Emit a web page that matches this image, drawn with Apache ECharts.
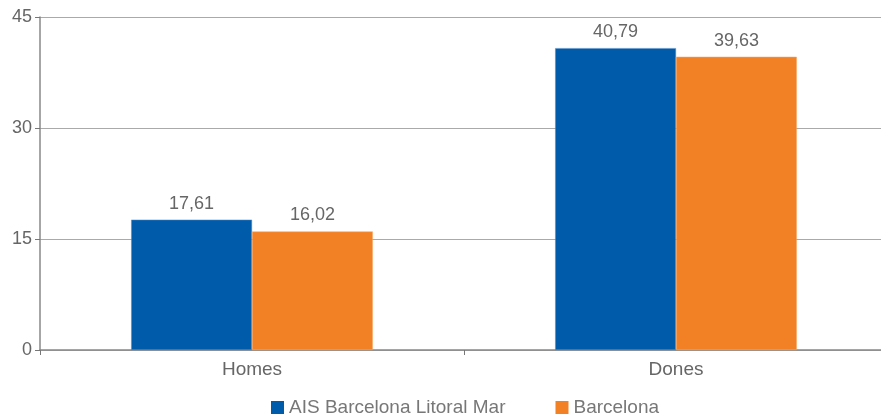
<!DOCTYPE html>
<html><head><meta charset="utf-8">
<script src="https://cdn.jsdelivr.net/npm/echarts@6/dist/echarts.min.js"></script>
<style>html,body{margin:0;padding:0;background:#fff}#c{width:881px;height:416px}</style>
</head><body><div id="c"></div>
<script>
const categories = ['Homes', 'Dones'];
const seriesNames = ['AIS Barcelona Litoral Mar', 'Barcelona'];
const aisValues = [17.61, 40.79];
const bcnValues = [16.02, 39.63];
const yTicks = [0, 15, 30, 45];

const chart = echarts.init(document.getElementById('c'), null, {renderer: 'canvas'});
const font = 'Liberation Sans, Arial, sans-serif';
const fmt = p => String(p.value.toFixed(2)).replace('.', ',');
chart.setOption({
  animation: false,
  textStyle: {fontFamily: font},
  grid: {left: 40, top: 17, right: -7, bottom: 66, containLabel: false, outerBoundsMode: 'none'},
  legend: {
    top: 393, left: 266, itemWidth: 13, itemHeight: 13, itemGap: 50,
    icon: 'rect',
    itemStyle: {borderWidth: 0},
    textStyle: {fontSize: 19, color: '#777', fontFamily: font},
    data: seriesNames
  },
  xAxis: {
    type: 'category', data: categories,
    axisLine: {lineStyle: {color: '#888', width: 1.5}},
    axisTick: {show: true, length: 5, lineStyle: {color: '#777'}},
    axisLabel: {fontSize: 19, color: '#666', margin: 10, fontFamily: font}
  },
  yAxis: {
    type: 'value', min: yTicks[0], max: yTicks[yTicks.length - 1], interval: 15,
    axisLine: {show: true, lineStyle: {color: '#888', width: 1.5}},
    axisTick: {show: true, length: 5, lineStyle: {color: '#777'}},
    axisLabel: {fontSize: 18, color: '#666', margin: 8, fontFamily: font},
    splitLine: {lineStyle: {color: '#aaa', width: 1}}
  },
  series: [
    {name: seriesNames[0], type: 'bar', data: aisValues, barGap: '0%', barCategoryGap: '43%',
     itemStyle: {color: '#005BAA', borderColor: '#5b8fc6', borderWidth: 0.5},
     label: {show: true, position: 'top', distance: 7, fontSize: 18, color: '#666', formatter: fmt, fontFamily: font}},
    {name: seriesNames[1], type: 'bar', data: bcnValues,
     itemStyle: {color: '#F28126', borderColor: '#f6aa6a', borderWidth: 0.5},
     label: {show: true, position: 'top', distance: 7, fontSize: 18, color: '#666', formatter: fmt, fontFamily: font}}
  ]
});
</script></body></html>
